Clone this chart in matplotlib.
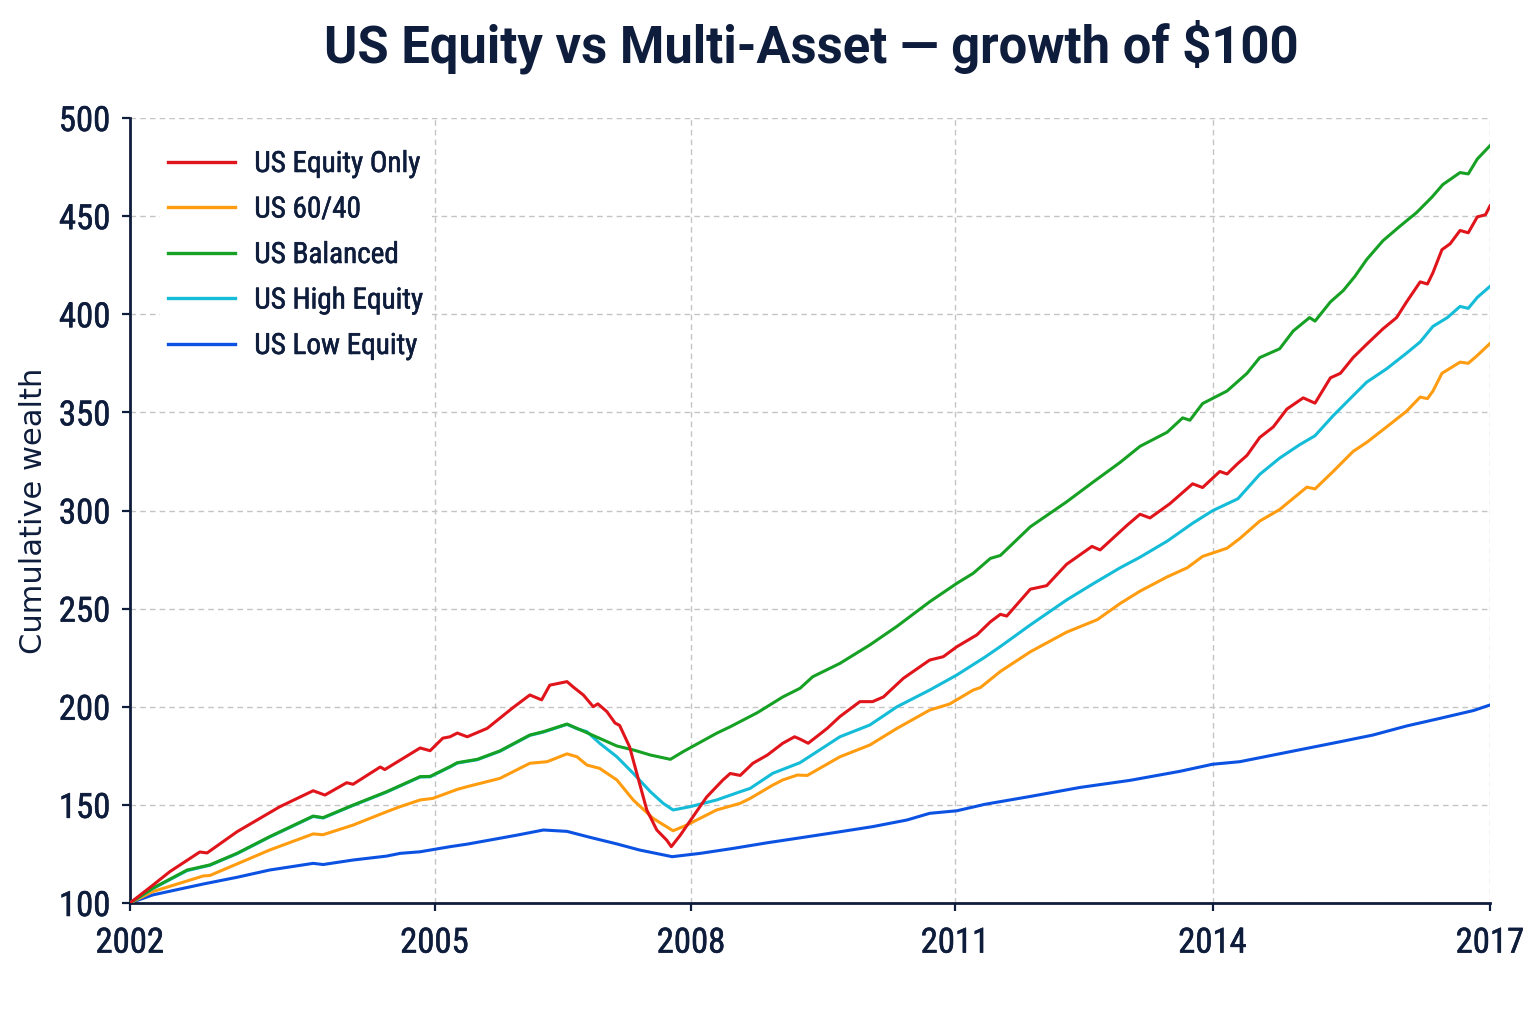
import matplotlib
matplotlib.use("Agg")
import matplotlib.pyplot as plt
from matplotlib import font_manager
import matplotlib.patheffects as pe

# ---------------- data ----------------
series_names = ["US Equity Only", "US 60/40", "US Balanced", "US High Equity", "US Low Equity"]

red_x = [2002.00, 2002.25, 2002.44, 2002.77, 2002.85, 2003.18, 2003.65, 2004.02, 2004.15, 2004.39,
         2004.46, 2004.76, 2004.81, 2005.20, 2005.31, 2005.45, 2005.53, 2005.61, 2005.72, 2005.94,
         2006.22, 2006.41, 2006.54, 2006.63, 2006.82, 2006.89, 2007.00, 2007.11, 2007.16, 2007.26,
         2007.35, 2007.40, 2007.51, 2007.59, 2007.70, 2007.81, 2007.92, 2007.97, 2008.07, 2008.21,
         2008.36, 2008.54, 2008.62, 2008.73, 2008.87, 2009.03, 2009.20, 2009.33, 2009.39, 2009.48,
         2009.69, 2009.83, 2010.05, 2010.19, 2010.31, 2010.53, 2010.82, 2010.97, 2011.12, 2011.34,
         2011.49, 2011.60, 2011.67, 2011.93, 2012.11, 2012.33, 2012.61, 2012.70, 2013.00, 2013.14,
         2013.25, 2013.47, 2013.72, 2013.83, 2014.02, 2014.10, 2014.21, 2014.32, 2014.46, 2014.61,
         2014.76, 2014.94, 2015.07, 2015.24, 2015.35, 2015.49, 2015.64, 2015.82, 2015.97, 2016.08,
         2016.23, 2016.31, 2016.37, 2016.47, 2016.56, 2016.67, 2016.76, 2016.86, 2016.95, 2017.00]
red_y = [100, 109, 116, 126, 125.5, 136.3, 149, 157.2, 155, 161.3,
         160.5, 169.3, 168, 179, 177.6, 184, 184.7, 186.6, 184.7, 189,
         199.4, 206, 203.5, 211, 212.8, 210, 206, 200, 201.5, 197.5,
         191.7, 190.5, 179.6, 166, 147.4, 137.2, 132, 128.7, 134.6, 144,
         154, 162.7, 166, 165, 171.2, 175.4, 181.4, 184.7, 183.5, 181.4,
         189, 195, 202.6, 202.6, 205, 214.5, 223.8, 225.5, 230.6, 236.6,
         243.3, 247.1, 246.2, 259.9, 261.7, 272.6, 281.7, 279.9, 292.6, 298.1,
         296.2, 303.5, 313.6, 311.7, 319.9, 318.6, 323.6, 328.1, 337.2, 342.6,
         351.7, 357.4, 354.7, 367.6, 369.9, 377.9, 384.7, 392.6, 398.3, 406.3,
         416.5, 415.4, 421.1, 432.9, 435.9, 442.7, 441.5, 449.6, 450.7, 455.2]

orange_x = [2002.00, 2002.25, 2002.81, 2002.88, 2003.18, 2003.54, 2004.02, 2004.13, 2004.46, 2004.83,
            2004.98, 2005.20, 2005.34, 2005.61, 2005.72, 2006.08, 2006.41, 2006.60, 2006.82, 2006.93,
            2007.04, 2007.18, 2007.37, 2007.55, 2007.77, 2007.99, 2008.14, 2008.47, 2008.73, 2008.84,
            2009.09, 2009.20, 2009.36, 2009.47, 2009.83, 2010.16, 2010.46, 2010.82, 2011.04, 2011.30,
            2011.38, 2011.60, 2011.93, 2012.33, 2012.67, 2012.92, 2013.14, 2013.44, 2013.66, 2013.83,
            2014.10, 2014.24, 2014.46, 2014.68, 2014.83, 2014.98, 2015.07, 2015.27, 2015.49, 2015.64,
            2015.86, 2016.08, 2016.23, 2016.31, 2016.37, 2016.47, 2016.67, 2016.76, 2016.86, 2017.00]
orange_y = [100, 105.8, 113.8, 114, 119.9, 127, 135.2, 134.8, 139.7, 146.5,
            149.1, 152.5, 153.3, 157.9, 159.3, 163.5, 171.2, 172, 176, 174.5,
            170.3, 168.6, 162.7, 152.5, 143.1, 136.8, 139.7, 147.4, 150.8, 153.3,
            160.1, 162.7, 165.2, 165, 174.5, 180.5, 189, 198.3, 201.4, 208.5,
            209.8, 218, 228, 238, 244.4, 252.6, 258.9, 266.2, 270.8, 276.6,
            280.8, 285.7, 294.6, 300.5, 306.2, 311.9, 311, 319.9, 330.1, 334.7,
            342.6, 350.6, 357.8, 357, 360.8, 369.9, 375.6, 375, 379, 385.1]

green_x = [2002.00, 2002.25, 2002.63, 2002.88, 2003.18, 2003.54, 2004.02, 2004.13, 2004.46, 2004.83,
           2005.20, 2005.31, 2005.53, 2005.61, 2005.83, 2006.08, 2006.41, 2006.56, 2006.82, 2006.93,
           2007.18, 2007.37, 2007.55, 2007.74, 2007.96, 2008.10, 2008.47, 2008.62, 2008.92, 2009.20,
           2009.39, 2009.53, 2009.83, 2010.16, 2010.46, 2010.82, 2011.12, 2011.30, 2011.49, 2011.60,
           2011.93, 2012.33, 2012.62, 2012.92, 2013.14, 2013.44, 2013.61, 2013.69, 2013.83, 2014.10,
           2014.32, 2014.46, 2014.68, 2014.83, 2015.01, 2015.07, 2015.24, 2015.38, 2015.51, 2015.64,
           2015.82, 2016.01, 2016.19, 2016.36, 2016.48, 2016.67, 2016.76, 2016.86, 2017.00]
green_y = [100, 107.5, 116.8, 119.4, 125.3, 133.8, 144.3, 143.5, 149.9, 156.7,
           164.4, 164.5, 169.5, 171.5, 173.2, 177.5, 185.6, 187.3, 191.2, 189,
           183.9, 180, 178, 175.4, 173.2, 177.1, 186.5, 189.8, 197, 205,
           209.4, 215.3, 222.1, 231.5, 241, 253.5, 262.9, 268, 275.6, 277.1,
           291.7, 304.4, 314.4, 324.5, 332.7, 339.9, 347.2, 346, 354.5, 360.9,
           369.9, 377.9, 382.4, 391.5, 398.3, 396.5, 406.3, 412, 419.3, 427.9,
           437.5, 445, 451.8, 459.7, 466.1, 472.2, 471.5, 479.1, 485.9]

cyan_x = [2002.00, 2002.25, 2002.63, 2002.88, 2003.18, 2003.54, 2004.02, 2004.13, 2004.46, 2004.83,
          2005.20, 2005.31, 2005.53, 2005.61, 2005.83, 2006.08, 2006.41, 2006.56, 2006.82, 2006.93,
          2007.04, 2007.18, 2007.37, 2007.55, 2007.74, 2007.88, 2007.99, 2008.18, 2008.47, 2008.73,
          2008.84, 2009.09, 2009.39, 2009.83, 2010.16, 2010.46, 2010.82, 2011.12, 2011.43, 2011.60,
          2011.93, 2012.33, 2012.62, 2012.92, 2013.14, 2013.44, 2013.72, 2013.94, 2014.22, 2014.46,
          2014.68, 2014.90, 2015.07, 2015.27, 2015.49, 2015.64, 2015.86, 2016.08, 2016.23, 2016.37,
          2016.53, 2016.67, 2016.76, 2016.86, 2017.00]
cyan_y = [100, 107.3, 116.5, 119.2, 125.1, 133.6, 144.1, 143.3, 149.7, 156.5,
          164.2, 164.3, 169.3, 171.3, 173, 177.3, 185.4, 187.1, 191, 188.8,
          187.3, 181.4, 174.5, 166.1, 156.7, 150.8, 147.4, 149.1, 152.5, 156.7,
          158.4, 166.1, 171.5, 184.7, 190.7, 200, 208.5, 216.2, 225.3, 230.7,
          241.7, 254.4, 262.6, 270.8, 276.2, 284.4, 293.5, 299.9, 306, 318.4,
          326.7, 333.5, 338.1, 348.3, 358.5, 365.4, 372.2, 380.2, 385.9, 393.8,
          398.3, 404, 403, 408.6, 414.2]

blue_x = [2002.00, 2002.25, 2002.81, 2003.18, 2003.54, 2004.02, 2004.13, 2004.46, 2004.83, 2004.98,
          2005.20, 2005.53, 2005.72, 2006.08, 2006.27, 2006.56, 2006.82, 2007.07, 2007.37, 2007.62,
          2007.98, 2008.29, 2008.65, 2009.03, 2009.39, 2009.83, 2010.19, 2010.57, 2010.82, 2011.12,
          2011.43, 2011.93, 2012.48, 2013.03, 2013.58, 2013.94, 2014.24, 2014.61, 2014.98, 2015.35,
          2015.71, 2016.08, 2016.45, 2016.82, 2017.00]
blue_y = [100, 104.1, 109.7, 113.1, 116.8, 120.2, 119.6, 121.9, 123.9, 125.3,
          126.1, 128.7, 130, 133, 134.6, 137.2, 136.5, 133.5, 130.1, 127,
          123.6, 125.3, 127.8, 130.7, 133.2, 136.3, 138.9, 142.3, 145.7, 147,
          150.3, 154.3, 158.9, 162.5, 167.1, 170.7, 172, 175.4, 178.8, 182.2,
          185.6, 190.2, 194.1, 198.1, 200.9]

x_tick_values = [2002.0, 2005.36, 2008.19, 2011.10, 2013.94, 2017.0]
x_tick_labels = ["2002", "2005", "2008", "2011", "2014", "2017"]
y_ticks = [100, 150, 200, 250, 300, 350, 400, 450, 500]

title = "US Equity vs Multi-Asset \u2014 growth of $100"
y_label = "Cumulative wealth"

# ---------------- fonts ----------------
available = {f.name for f in font_manager.fontManager.ttflist}


def pick(*names):
    for n in names:
        if n in available:
            return n
    return "DejaVu Sans"


narrow = pick("Liberation Sans Narrow", "Roboto Condensed", "Roboto", "Liberation Sans")
title_font = pick("Roboto", "Liberation Sans")
label_font = "DejaVu Sans"

NAVY = "#0f1d3c"
GRID = "#c4c4c4"
colors = ["#e0141b", "#ff9c10", "#16a024", "#14bcd8", "#0b52e3"]
zorders = [6, 3, 5, 4, 2]
medium = [pe.withStroke(linewidth=0.4, foreground=NAVY)]

# ---------------- figure ----------------
fig = plt.figure(figsize=(15.36, 10.24), dpi=100)
ax = fig.add_axes([130 / 1536, 1 - 903 / 1024, 1360 / 1536, 785 / 1024])

xs = [red_x, orange_x, green_x, cyan_x, blue_x]
ys = [red_y, orange_y, green_y, cyan_y, blue_y]
for name, x, y, c, z in zip(series_names, xs, ys, colors, zorders):
    ax.plot(x, y, color=c, lw=2.2, label=name, zorder=z, solid_joinstyle="round")

ax.set_xlim(2002, 2017)
ax.set_ylim(100, 500)
ax.set_xticks(x_tick_values)
ax.set_xticklabels(x_tick_labels)
ax.set_yticks(y_ticks)

ax.grid(True, which="major", linestyle=(0, (4, 3)), color=GRID, linewidth=1.0)
ax.set_axisbelow(True)

for s in ["top", "right"]:
    ax.spines[s].set_visible(False)
for s in ["left", "bottom"]:
    ax.spines[s].set_color(NAVY)
    ax.spines[s].set_linewidth(2.0)

ax.tick_params(axis="both", colors=NAVY, length=6, width=1.6)
ax.tick_params(axis="x", pad=11)
ax.tick_params(axis="y", pad=8)
for lab in ax.get_xticklabels() + ax.get_yticklabels():
    lab.set_fontfamily(narrow)
    lab.set_fontsize(25)
    lab.set_color(NAVY)
    lab.set_path_effects(medium)

ax.set_ylabel(y_label, fontfamily=label_font, fontsize=22, color=NAVY)
ax.yaxis.set_label_coords(-0.0603, 0.5)

leg = ax.legend(loc="upper left", bbox_to_anchor=(0.011, 0.989), frameon=True,
                prop={"family": narrow, "size": 21}, handlelength=2.3,
                handletextpad=0.65, labelspacing=0.6, borderpad=0.3)
leg.get_frame().set_facecolor("white")
leg.get_frame().set_edgecolor("none")
leg.get_frame().set_alpha(1.0)
for t in leg.get_texts():
    t.set_color(NAVY)
    t.set_path_effects(medium)
for h in leg.get_lines():
    h.set_linewidth(2.4)

fig.text(811 / 1536, 1 - 47 / 1024, title, ha="center", va="center",
         fontfamily=title_font, fontweight="bold", fontsize=36.5, color=NAVY)

fig.savefig("out.png", dpi=100, facecolor="white")
